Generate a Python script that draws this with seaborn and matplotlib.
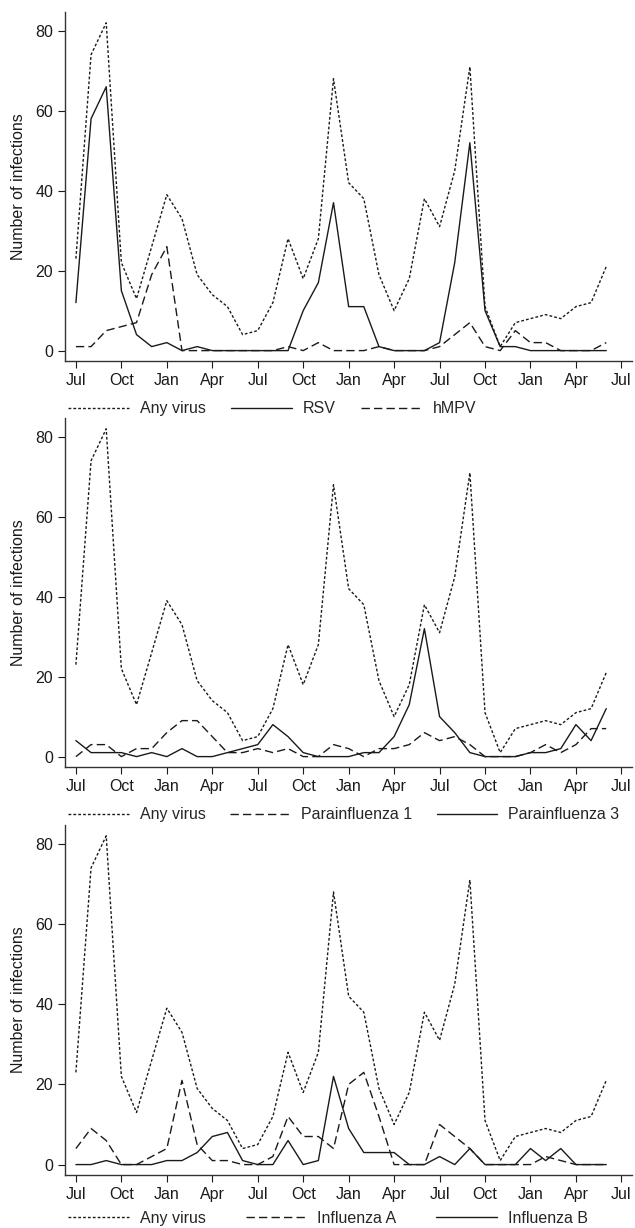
import numpy as np
import pandas as pd
import seaborn as sns
import matplotlib.pyplot as plt

sns.set_theme(style='ticks')
plt.rcParams['font.family'] = ['Liberation Sans', 'DejaVu Sans']

############ DATA (monthly counts, Jul of year 1 to Jun of year 4)

months = list(range(36))
tick_pos = list(range(0, 37, 3))
tick_labels = ['Jul', 'Oct', 'Jan', 'Apr'] * 3 + ['Jul']

any_virus = [23, 74, 82, 22, 13, 26, 39, 33, 19, 14, 11, 4,
             5, 12, 28, 18, 28, 68, 42, 38, 19, 10, 18, 38,
             31, 45, 71, 11, 1, 7, 8, 9, 8, 11, 12, 21]
rsv = [12, 58, 66, 15, 4, 1, 2, 0, 1, 0, 0, 0,
       0, 0, 0, 10, 17, 37, 11, 11, 1, 0, 0, 0,
       2, 22, 52, 10, 1, 1, 0, 0, 0, 0, 0, 0]
hmpv = [1, 1, 5, 6, 7, 19, 26, 0, 0, 0, 0, 0,
        0, 0, 1, 0, 2, 0, 0, 0, 1, 0, 0, 0,
        1, 4, 7, 1, 0, 5, 2, 2, 0, 0, 0, 2]
para1 = [0, 3, 3, 0, 2, 2, 6, 9, 9, 5, 1, 1,
         2, 1, 2, 0, 0, 3, 2, 0, 2, 2, 3, 6,
         4, 5, 3, 0, 0, 0, 1, 3, 1, 3, 7, 7]
para3 = [4, 1, 1, 1, 0, 1, 0, 2, 0, 0, 1, 2,
         3, 8, 5, 1, 0, 0, 0, 1, 1, 5, 13, 32,
         10, 6, 1, 0, 0, 0, 1, 1, 2, 8, 4, 12]
flu_a = [4, 9, 6, 0, 0, 2, 4, 21, 5, 1, 1, 0,
         0, 2, 12, 7, 7, 4, 20, 23, 12, 0, 0, 0,
         10, 7, 4, 0, 0, 0, 0, 2, 1, 0, 0, 0]
flu_b = [0, 0, 1, 0, 0, 0, 1, 1, 3, 7, 8, 1,
         0, 0, 6, 0, 1, 22, 9, 3, 3, 3, 0, 0,
         2, 0, 4, 0, 0, 0, 4, 1, 4, 0, 0, 0]

panels = [
    [('Any virus', any_virus), ('RSV', rsv), ('hMPV', hmpv)],
    [('Any virus', any_virus), ('Parainfluenza 1', para1), ('Parainfluenza 3', para3)],
    [('Any virus', any_virus), ('Influenza A', flu_a), ('Influenza B', flu_b)],
]
# line style per position in a panel
panel_dashes = [
    [(2, 1.5), '', (6, 3)],
    [(2, 1.5), (6, 3), ''],
    [(2, 1.5), (6, 3), ''],
]
col_spacing = [1.6, 1.5, 2.5]
legend_y = [-0.115, -0.115, -0.103]

############ PLOT

fig = plt.figure(figsize=(6.35, 12.28), dpi=100)
W, H = 635, 1228
boxes = [(12, 361), (418, 767), (825, 1175)]  # top, bottom in pixels
ink = '#1a1a1a'

for (top, bottom), series, dash, cs, ly in zip(boxes, panels, panel_dashes, col_spacing, legend_y):
    ax = fig.add_axes([65 / W, 1 - bottom / H, 567 / W, (bottom - top) / H])
    df = pd.concat([pd.DataFrame({'month': months, 'count': vals, 'virus': name})
                    for name, vals in series], ignore_index=True)
    names = [name for name, _ in series]
    sns.lineplot(data=df, x='month', y='count', style='virus', style_order=names,
                 dashes=dict(zip(names, dash)), color=ink, linewidth=1.0, ax=ax)

    ax.set_xlim(-0.72, 36.7)
    ax.set_ylim(-2.6, 84.7)
    ax.set_xticks(tick_pos)
    ax.set_xticklabels(tick_labels)
    ax.set_yticks([0, 20, 40, 60, 80])
    ax.set_xlabel('')
    ax.set_ylabel('Number of infections', fontsize=11.5, color=ink, labelpad=7)
    ax.tick_params(axis='both', labelsize=11.5, colors=ink, length=5, width=0.8, direction='out')
    for side in ['top', 'right']:
        ax.spines[side].set_visible(False)
    for side in ['left', 'bottom']:
        ax.spines[side].set_color('#333333')
        ax.spines[side].set_linewidth(1.0)

    handles, labels = ax.get_legend_handles_labels()
    ax.legend(handles, labels, loc='upper left', bbox_to_anchor=(0.005, ly),
              ncol=3, frameon=False, fontsize=11.5, handlelength=3.8,
              handletextpad=0.7, columnspacing=cs, borderaxespad=0, borderpad=0)

plt.savefig('out.png', dpi=100)
